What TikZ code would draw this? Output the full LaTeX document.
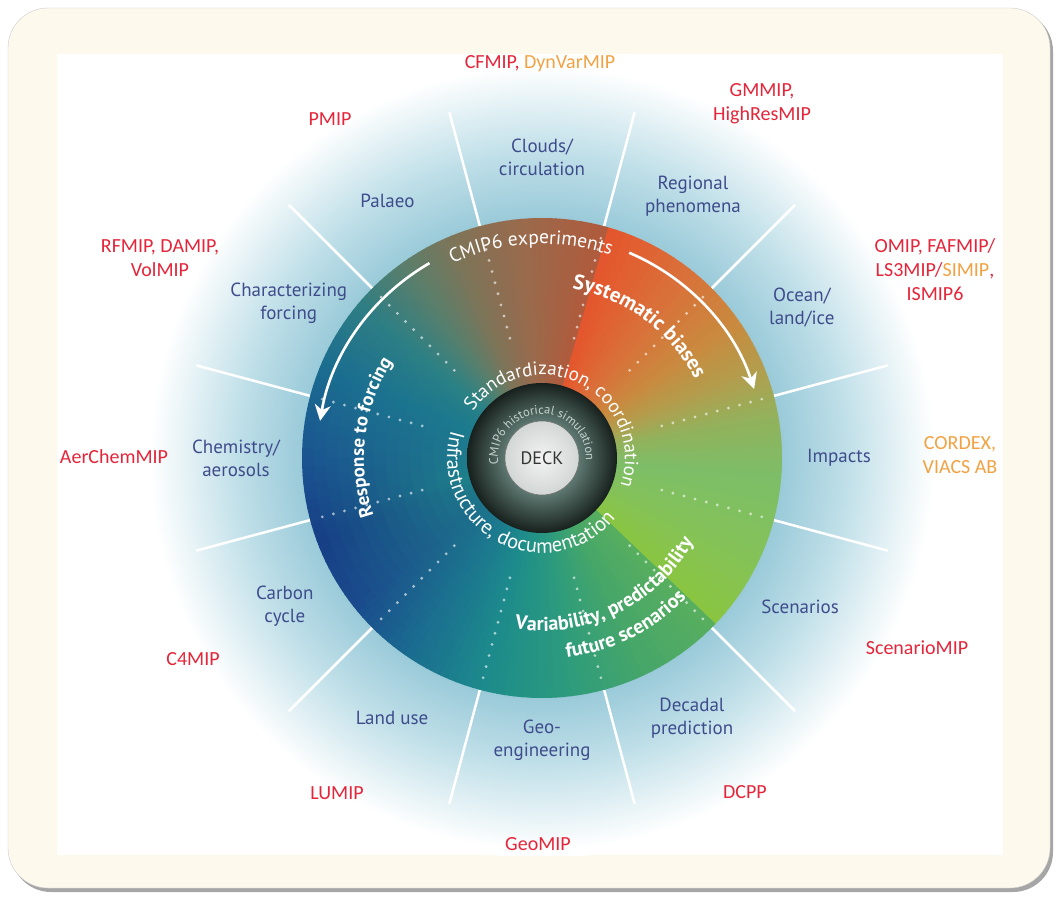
\documentclass[tikz,border=0pt]{standalone}
\usepackage{fontspec}
\setmainfont{PT Sans}
\newfontfamily\mipfont{Carlito}
\usepackage{xcolor}
\usetikzlibrary{decorations.text,arrows.meta}
\definecolor{sectorblue}{HTML}{3F4C8C}
\definecolor{mipred}{HTML}{E4253A}
\definecolor{miporange}{HTML}{F2A242}
\definecolor{framecream}{HTML}{FDF9EC}
\definecolor{haloA}{HTML}{9ACAD9}
\definecolor{haloB}{HTML}{BFDFE8}
\definecolor{ringlight}{HTML}{5F7A72}
\definecolor{ringdark}{HTML}{17201D}
\definecolor{deckwhite}{HTML}{F3F4F3}
\definecolor{deckgrey}{HTML}{D2D6D4}
\definecolor{coreteal}{HTML}{1F8F8A}
\definecolor{histgrey}{HTML}{C5D2CE}
\pgfdeclareradialshading{haloshade}{\pgfpointorigin}{color(0bp)=(haloA); color(15bp)=(haloA); color(19bp)=(haloB); color(24.5bp)=(white); color(50bp)=(white)}
\pgfdeclareradialshading{ringshade}{\pgfpointorigin}{color(0bp)=(ringlight); color(12bp)=(ringlight); color(25bp)=(ringdark); color(50bp)=(ringdark)}
\pgfdeclareradialshading{deckshade}{\pgfpointorigin}{color(0bp)=(deckwhite); color(25bp)=(deckgrey); color(50bp)=(deckgrey)}
\tikzset{
  sector/.style={text=sectorblue, font=\fontsize{19}{23}\selectfont, align=center},
  mip/.style={text=mipred, font=\mipfont\fontsize{20}{24}\selectfont, align=center},
  spoke/.style={white, line width=2.5pt},
  dotline/.style={white, line width=3.2pt, line cap=round, dash pattern=on 0pt off 11.5pt, opacity=0.6},
  bend arrow/.style={white, line width=2.6pt, -{Stealth[length=16pt,width=16pt,inset=5pt]}},
  arctext/.style={decorate, decoration={text along path, text align=center, text color=white}}
}

\begin{document}
\begin{tikzpicture}[x=1pt,y=1pt]
  \useasboundingbox (-542,-446) rectangle (517,458);
  \fill[black!35, rounded corners=40pt] (-531,447) rectangle (511,-434);
  \fill[framecream, draw=black!20, rounded corners=40pt] (-534,450) rectangle (508,-430);
  \fill[white] (-485,404) rectangle (461,-397);
  \begin{scope}
    \clip (-485,404) rectangle (461,-397);
    \shade[shading=haloshade] (0,0) circle[radius=400];
  \end{scope}

  \coordinate (hub) at (0,0);
  \foreach \a in {15,45,...,345}
    \draw[spoke] (\a:240) -- (\a:358);

  \foreach \a/\b/\ca/\cb in {-44/-25/8AC540/84C258, -25/-5/84C258/7DBE68, -5/10/7DBE68/92B25C,
      10/22/92B25C/B29E4E, 22/35/B29E4E/C98A3E, 35/52/C98A3E/D9713A, 52/74/D9713A/E5552C,
      74/95/B05A3C/9A6A4C, 95/112/9A6A4C/7E7458, 112/125/7E7458/5C7E6A, 125/140/5C7E6A/2E7E84,
      140/158/2E7E84/1A6C90, 158/180/1A6C90/1A5490, 180/200/1A5490/173F86, 200/218/173F86/1A4A8C,
      218/235/1A4A8C/1A6A90, 235/255/1A6A90/1C8A8C, 255/275/1C8A8C/2B9A7E, 275/295/2B9A7E/45A66A,
      295/316/45A66A/58AE5E}
  {
    \xdefinecolor{wedgeA}{HTML}{\ca}
    \xdefinecolor{wedgeB}{HTML}{\cb}
    \foreach \i in {0,...,9} {
      \pgfmathsetmacro\wa{\a+(\b-\a)*\i/10}
      \pgfmathsetmacro\wb{\a+(\b-\a)*(\i+1)/10+0.3}
      \pgfmathsetmacro\mixpct{10*\i+5}
      \fill[wedgeB!\mixpct!wedgeA] (hub) -- (\wa:240) arc[start angle=\wa, end angle=\wb, radius=240] -- cycle;
    }
  }
  \foreach \ringr in {228,216,...,84} {
    \pgfmathsetmacro\ringf{0.8*(240-\ringr)/156}
    \foreach \a/\b/\ca/\cb in {112/125/7E7458/5C7E6A, 125/140/5C7E6A/2E7E84, 140/158/2E7E84/1A6C90,
        158/180/1A6C90/1A5490, 180/200/1A5490/173F86, 200/218/173F86/1A4A8C, 218/235/1A4A8C/1A6A90,
        235/255/1A6A90/1C8A8C, 255/275/1C8A8C/2B9A7E}
    {
      \xdefinecolor{wedgeA}{HTML}{\ca}
      \xdefinecolor{wedgeB}{HTML}{\cb}
      \foreach \i in {0,...,9} {
        \pgfmathsetmacro\wa{\a+(\b-\a)*\i/10}
        \pgfmathsetmacro\wb{\a+(\b-\a)*(\i+1)/10+0.3}
        \pgfmathsetmacro\mixpct{10*\i+5}
        \pgfmathsetmacro\tealpct{100*\ringf*max(0,1-abs((\wa+\wb)/2-195)/80)}
        \colorlet{wedgeC}{wedgeB!\mixpct!wedgeA}
        \fill[coreteal!\tealpct!wedgeC] (hub) -- (\wa:\ringr) arc[start angle=\wa, end angle=\wb, radius=\ringr] -- cycle;
      }
    }
  }

  \foreach \a in {15,45,...,345}
    \draw[dotline] (\a:124) -- (\a:236);

  \shade[shading=ringshade] (hub) circle[radius=75];
  \node[circle, minimum size=74pt, inner sep=0pt, shading=deckshade, draw=black!55, line width=0.6pt,
    text=black!80, font=\fontsize{18}{18}\selectfont] (deck) at (hub) {DECK};

  \path[arctext, decoration={text color=histgrey, text={|\fontsize{12.5}{12.5}\selectfont|CMIP6 historical simulation}}]
    (207.5:44) arc[start angle=207.5, end angle=-22.5, radius=44];
  \path[arctext, decoration={text={|\fontsize{19}{19}\selectfont|Standardization, coordination}}]
    (163.5:83) arc[start angle=163.5, end angle=-36.5, radius=83];
  \path[arctext, decoration={text={|\fontsize{20.5}{20.5}\selectfont|Infrastructure, documentation}}]
    (142:95) arc[start angle=142, end angle=342, radius=95];
  \path[arctext, decoration={text={|\fontsize{19.5}{19.5}\selectfont|CMIP6 experiments}}]
    (173:214) arc[start angle=173, end angle=13, radius=214];
  \path[arctext, decoration={text={|\bfseries\fontsize{21}{21}\selectfont|Systematic biases}}]
    (123.5:172) arc[start angle=123.5, end angle=-16.5, radius=172];
  \path[arctext, decoration={text={|\bfseries\fontsize{19}{19}\selectfont|Response to forcing}}]
    (243:178) arc[start angle=243, end angle=103, radius=178];
  \path[arctext, decoration={text={|\bfseries\fontsize{20}{20}\selectfont|Variability, predictability}}]
    (216:173) arc[start angle=216, end angle=376, radius=173];
  \path[arctext, decoration={text={|\bfseries\fontsize{20}{20}\selectfont|future scenarios}}]
    (216:201) arc[start angle=216, end angle=377, radius=201];

  \draw[bend arrow] (120:225) arc[start angle=120, end angle=170.5, radius=225];
  \draw[bend arrow] (67:223) arc[start angle=67, end angle=18, radius=223];

  \node[sector] (impacts) at (0:297) {Impacts};
  \node[sector] (ocean) at (30:300) {Ocean/\\land/ice};
  \node[sector] (regional) at (60:302) {Regional\\phenomena};
  \node[sector] (clouds) at (90:301) {Clouds/\\circulation};
  \node[sector] (palaeo) at (121:300) {Palaeo};
  \node[sector] (forcing) at (148.5:297) {Characterizing\\forcing};
  \node[sector] (chemistry) at (180:306) {Chemistry/\\aerosols};
  \node[sector] (carbon) at (210:297) {Carbon\\cycle};
  \node[sector] (landuse) at (240:300) {Land use};
  \node[sector] (geo) at (270:282) {Geo-\\engineering};
  \node[sector] (decadal) at (300:300) {Decadal\\prediction};
  \node[sector] (scenarios) at (330:298) {Scenarios};

  \node[mip] (cfmip) at (-2,394) {CFMIP, \textcolor{miporange}{DynVarMIP}};
  \node[mip] (gmmip) at (220,354) {GMMIP,\\HighResMIP};
  \node[mip] (pmip) at (-212,339) {PMIP};
  \node[mip] (rfmip) at (-382,200) {RFMIP, DAMIP,\\VolMIP};
  \node[mip] (omip) at (393,188) {OMIP, FAFMIP/\\LS3MIP/\textcolor{miporange}{SIMIP},\\ISMIP6};
  \node[mip] (aerchem) at (-428,1) {AerChemMIP};
  \node[mip, text=miporange] (cordex) at (418,3) {CORDEX,\\VIACS AB};
  \node[mip] (c4mip) at (-349,-201) {C4MIP};
  \node[mip] (scenariomip) at (375,-190) {ScenarioMIP};
  \node[mip] (lumip) at (-205,-335) {LUMIP};
  \node[mip] (dcpp) at (203,-334) {DCPP};
  \node[mip] (geomip) at (-4,-386) {GeoMIP};
\end{tikzpicture}
\end{document}
